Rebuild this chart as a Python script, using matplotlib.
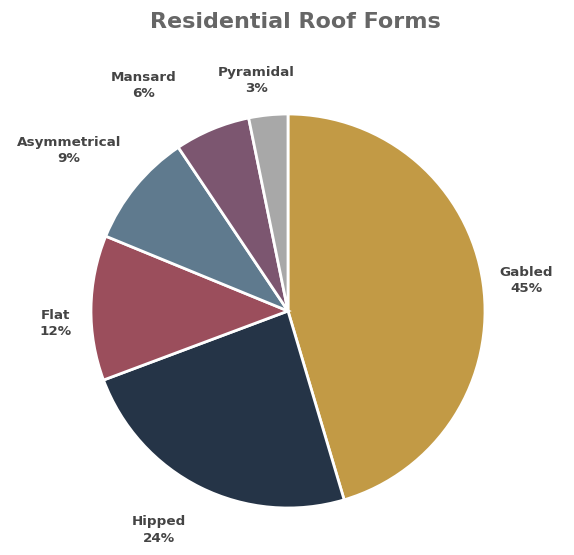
import numpy as np
import matplotlib
matplotlib.use("Agg")
import matplotlib.pyplot as plt

# roof form shares (percent)
forms = ["Gabled", "Hipped", "Flat", "Asymmetrical", "Mansard", "Pyramidal"]
shares = [45.4, 23.9, 11.9, 9.4, 6.2, 3.2]
pct_labels = ["45%", "24%", "12%", "9%", "6%", "3%"]
colors = ["#C29A45", "#253447", "#9B4E5C", "#5F7A8E", "#7C5670", "#A8A8A8"]

# label distance from centre (radii) and angle nudge (degrees)
label_dist = [1.22, 1.29, 1.18, 1.38, 1.36, 1.18]
label_nudge = [-1, -4, 4, 3, 10, 2]

fig = plt.figure(figsize=(5.74, 5.55), dpi=100)
ax = fig.add_axes([0, 0, 1, 1])

wedges, _ = ax.pie(shares, colors=colors, startangle=90, counterclock=False,
                   wedgeprops=dict(edgecolor="white", linewidth=2))

# pie resets the limits, so set them afterwards (1 unit = 197 px)
R = 197.0
ax.set_aspect("auto")
ax.set_xlim(-288 / R, (574 - 288) / R)
ax.set_ylim(-244 / R, (555 - 244) / R)
ax.axis("off")

for w, name, pct, d, nudge in zip(wedges, forms, pct_labels, label_dist, label_nudge):
    mid = np.deg2rad((w.theta1 + w.theta2) / 2 + nudge)
    ax.text(d * np.cos(mid), d * np.sin(mid), f"{name}\n{pct}",
            ha="center", va="center", fontsize=9.7, fontweight="bold",
            color="#444444", linespacing=1.35, family="DejaVu Sans")

fig.text(0.514, 0.96, "Residential Roof Forms", ha="center", va="center",
         fontsize=16, fontweight="bold", color="#666666", family="DejaVu Sans")

fig.savefig("out.png", dpi=100)
